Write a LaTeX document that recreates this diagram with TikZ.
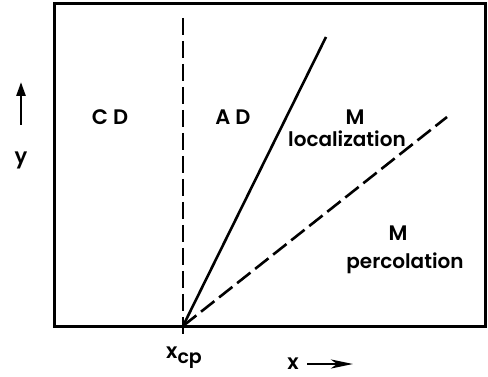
\documentclass[tikz,border=0pt]{standalone}
\usepackage{fontspec}
\setmainfont{Poppins}[UprightFont=* SemiBold]
\usetikzlibrary{arrows.meta}
\begin{document}
\begin{tikzpicture}[x=1pt,y=-1pt,
  lbl/.style={inner sep=0pt,font=\fontsize{21}{21}\selectfont},
  sub/.style={inner sep=0pt,font=\fontsize{20}{20}\selectfont},
  dline/.style={line width=2.6pt,dash pattern=on 17pt off 6pt},
  sline/.style={line width=2.6pt}]
\useasboundingbox (0,0) rectangle (488,377);
\draw[line width=3pt] (54,4) rectangle (485,326);
\coordinate (cp) at (183,326);
\coordinate (vtop) at (183,18);
\coordinate (vbot) at (183,334);
\coordinate (stop) at (326,37);
\coordinate (dtop) at (447,117);
\draw[dline] (vtop) -- (vbot);
\draw[sline] (cp) -- (stop);
\draw[dline] (cp) -- (dtop);
\node[lbl] (cd) at (110,117) {C\hspace{5pt}D};
\node[lbl] (ad) at (233,117) {A\hspace{5pt}D};
\node[lbl] (m1) at (355,117) {M};
\node[sub] (loc) at (347,139) {localization};
\node[lbl] (m2) at (398,233) {M};
\node[sub] (perc) at (405,263) {percolation};
\node[lbl,anchor=base] (xcp) at (184,359) {x\raisebox{-5pt}{\fontsize{19}{19}\selectfont cp}};
\coordinate (ya) at (21,125);
\coordinate (yb) at (21,82);
\draw[line width=2.6pt,-{Triangle[length=14pt,width=9pt]}] (ya) -- (yb);
\node[lbl] (ylab) at (21,160) {y};
\node[lbl,anchor=base] (xlab) at (293,370) {x};
\coordinate (xa) at (307,364);
\coordinate (xb) at (353,364);
\draw[line width=2.6pt,-{Stealth[length=22pt,width=9pt,inset=6pt]}] (xa) -- (xb);
\end{tikzpicture}
\end{document}
